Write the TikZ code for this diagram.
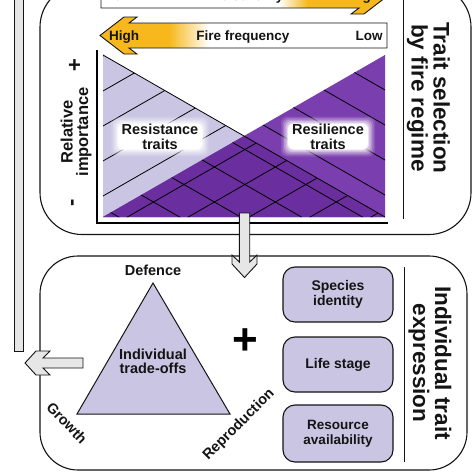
\documentclass[tikz,border=0pt]{standalone}
\usepackage{fontspec}
\setmainfont{Liberation Sans}
\usetikzlibrary{calc}
\definecolor{fy}{RGB}{246,184,28}
\definecolor{lav}{RGB}{201,197,227}
\definecolor{purp}{RGB}{122,62,174}
\definecolor{purpd}{RGB}{106,46,158}
\definecolor{arrgray}{RGB}{230,230,230}
\definecolor{ink}{RGB}{20,20,20}
\pgfdeclarehorizontalshading{freqshade}{100bp}{color(0bp)=(fy); color(37bp)=(fy); color(44bp)=(white); color(100bp)=(white)}
\pgfdeclarehorizontalshading{sevshade}{100bp}{color(0bp)=(white); color(56bp)=(white); color(61bp)=(fy); color(100bp)=(fy)}
\newcommand\myfs[2]{\fontsize{#1}{#2}\selectfont}
\newcommand\glowat[3]{%
  \foreach \d/\o in {7/0.12,5.5/0.18,4/0.25,2.5/0.35,1/0.5,0/1}{%
    \fill[white, opacity=\o, rounded corners=6pt] ($(#1)+({-#2-\d},{-#3-\d})$) rectangle ($(#1)+({#2+\d},{#3+\d})$);
  }}
\tikzset{
  panel/.style={draw=ink, line width=1.1pt},
  sepline/.style={draw=ink, line width=1pt},
  yarrow/.style={draw=ink, line width=0.9pt},
  blockarrow/.style={draw=ink, line width=0.9pt, fill=arrgray},
  hatch/.style={draw=black, line width=0.8pt},
  axisline/.style={draw=black, line width=2.2pt},
  atext/.style={font=\bfseries\myfs{13.5}{15}, text=ink, inner sep=0},
  lbl/.style={font=\bfseries\myfs{14.5}{15}, text=ink, align=center, inner sep=0},
  title/.style={font=\bfseries\myfs{22.5}{22}, text=ink, align=center, inner sep=0},
  tbox/.style={draw=ink, line width=1.1pt, fill=lav, rounded corners=12pt,
    minimum width=110pt, minimum height=55pt, align=center, inner sep=0,
    font=\bfseries\myfs{14}{15}, text=ink},
}
\begin{document}
\begin{tikzpicture}[x=1pt,y=-1pt]
\useasboundingbox (0,0) rectangle (474,474);
\fill[white] (0,0) rectangle (474,474);

% feedback bar
\draw[blockarrow] (14,-5) rectangle (23,351);

% panels
\draw[panel, rounded corners=42pt] (40,-15) rectangle (471,234.5);
\draw[panel, rounded corners=38pt] (40,256) rectangle (467,470);
\draw[sepline] (403,-15) -- (403,219);
\draw[sepline] (404,267) -- (404,462);

% titles
\node[title, rotate=-90] (title1) at (428.5,98) {Trait selection\\by fire regime};
\node[title, rotate=-90] (title2) at (430,363) {Individual trait\\expression};

% top (severity) arrow, cut off
\shadedraw[yarrow, shading=sevshade] (388,-4.5) -- (364,-23) -- (351,-23) -- (359,-17) -- (101,-17) -- (101,8) -- (359,8) -- (351,14) -- (364,14) -- cycle;
\node[atext, anchor=base] (low2) at (119,0.3) {Low};
\node[atext, anchor=base] (sev) at (243.5,0.3) {Fire severity};
\node[atext, anchor=base] (high2) at (364,0.3) {High};

% fire frequency arrow
\shadedraw[yarrow, shading=freqshade] (100,35.5) -- (124,17) -- (137,17) -- (129,23) -- (387,23) -- (387,48) -- (129,48) -- (137,54) -- (124,54) -- cycle;
\node[atext, anchor=base] (high1) at (124,40) {High};
\node[atext, anchor=base] (freq) at (243,40) {Fire frequency};
\node[atext, anchor=base] (low1) at (369,40) {Low};

% plot
\fill[lav] (103,55) -- (103,217) -- (385,217) -- cycle;
\fill[purp] (103,217) -- (385,55) -- (385,217) -- cycle;
\fill[purpd] (103,217) -- (244,136) -- (385,217) -- cycle;
\begin{scope}
  \clip (103,55) -- (103,217) -- (385,217) -- cycle;
  \foreach \k in {-1,...,8} \draw[hatch] (103,{91+35*\k}) -- ++(282,-162);
\end{scope}
\begin{scope}
  \clip (103,217) -- (385,55) -- (385,217) -- cycle;
  \foreach \k in {-1,...,8} \draw[hatch] (385,{90+35*\k}) -- ++(-282,-162);
\end{scope}
\draw[hatch] (103,55) -- (385,217);
\draw[axisline] (97,50) -- (97,223) -- (388,223);

\node[font=\bfseries\myfs{22}{22}, text=ink, inner sep=0] (plus1) at (74.5,66) {+};
\node[font=\bfseries\myfs{22}{22}, text=ink, inner sep=0, rotate=90] (minus1) at (74.5,203) {-};
\node[font=\bfseries\myfs{16.5}{15.5}, text=ink, align=center, inner sep=0, rotate=90] (relimp) at (76,132) {Relative\\importance};

\coordinate (rlab) at (160,136.5);
\coordinate (slab) at (328,136.5);
\glowat{rlab}{42}{13}
\glowat{slab}{40}{13}
\node[lbl] (resist) at (rlab) {Resistance\\traits};
\node[lbl] (resil) at (slab) {Resilience\\traits};

% arrow down between panels
\draw[blockarrow] (239.3,213) -- (239.3,262) -- (232,255) -- (232,264) -- (244.5,277.5) -- (257,264) -- (257,255) -- (249.7,262) -- (249.7,213) -- cycle;

% left arrow
\draw[blockarrow] (83,358) -- (43,358) -- (50,351) -- (36,351) -- (25,363) -- (36,375) -- (50,375) -- (43,368) -- (83,368) -- cycle;

% trade-off triangle
\draw[draw=ink, line width=1pt, fill=lav] (153,283) -- (77,414) -- (230,414) -- cycle;
\node[lbl, font=\bfseries\myfs{14.5}{13.8}] (trade) at (153,361) {Individual\\trade-offs};
\node[lbl] (def) at (153,270) {Defence};
\node[lbl, rotate=-46] (growth) at (67,423) {Growth};
\node[lbl, rotate=45] (repro) at (239,425) {Reproduction};
\node[font=\bfseries\myfs{44}{44}, text=black, inner sep=0] (plus2) at (245,342) {+};

% boxes
\node[tbox] (species) at (338,294.5) {Species\\identity};
\node[tbox] (life) at (338,364.5) {Life stage};
\node[tbox, minimum height=57pt, font=\bfseries\myfs{13.5}{15}] (resource) at (338,433.5) {Resource\\availability};
\end{tikzpicture}
\end{document}
